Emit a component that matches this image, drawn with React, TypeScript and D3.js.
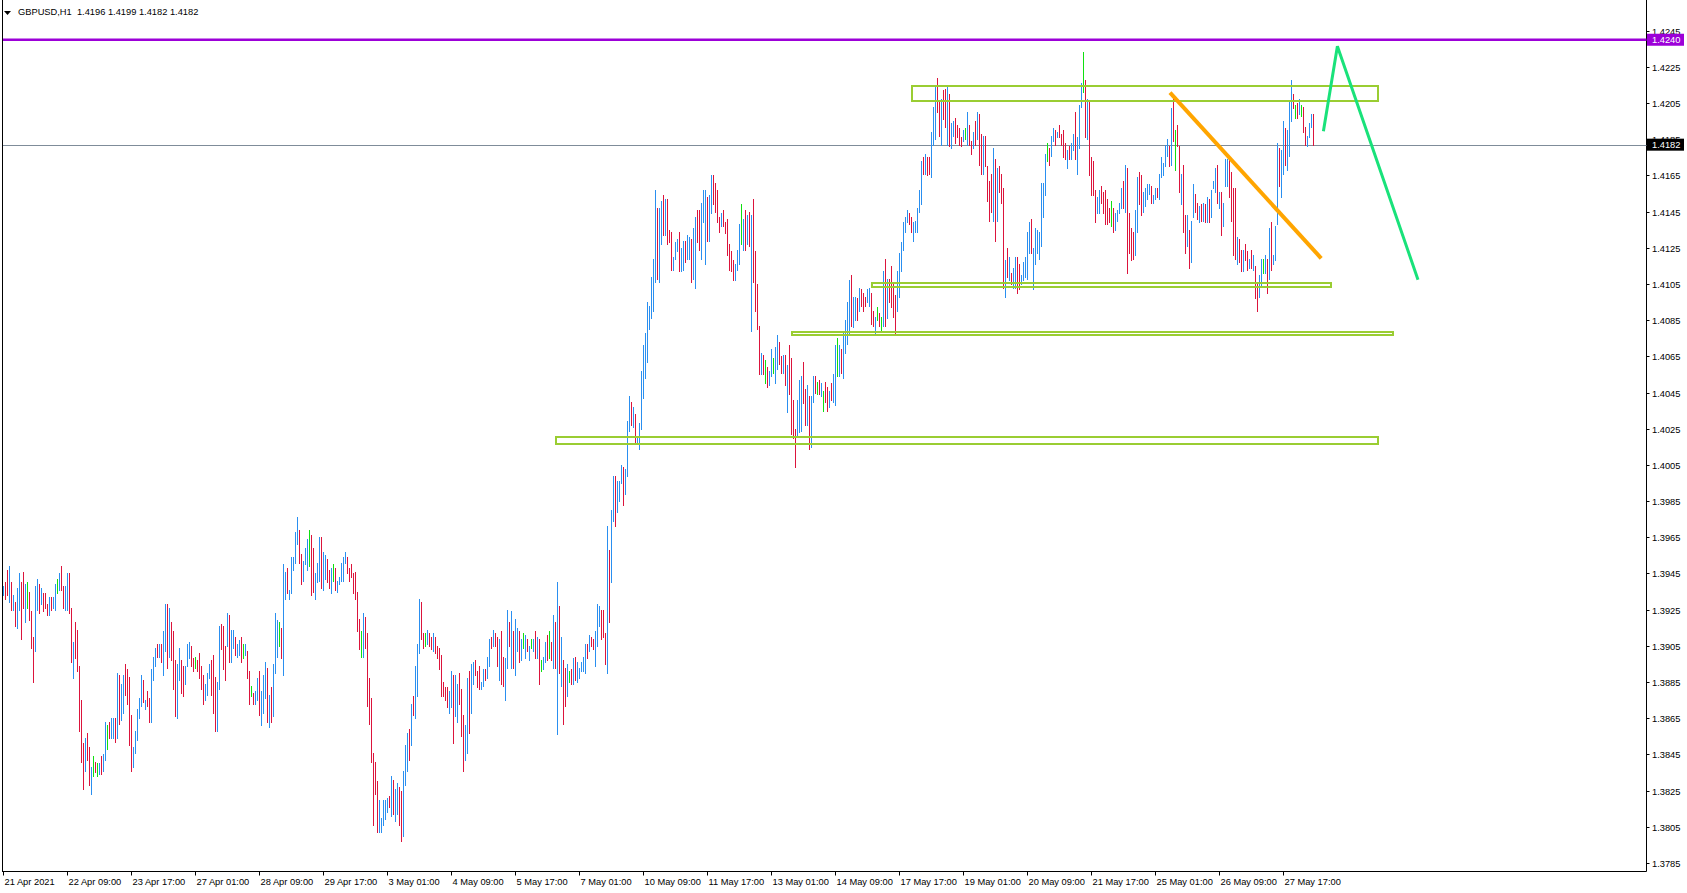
import React from 'react';
import * as d3 from 'd3';

// ---------- DATA (GBPUSD H1, prices × 10000) ----------
const TITLE_SYMBOL = 'GBPUSD,H1';
const LAST_OHLC = ['1.4196', '1.4199', '1.4182', '1.4182'];

const HIGH = [
  13938,13940,13947,13949,13940,13933,13929,13937,13945,13940,
  13946,13939,13940,13935,13924,13910,13938,13942,13939,13937,
  13934,13934,13928,13932,13932,13932,13939,13942,13945,13949,
  13938,13938,13945,13945,13926,13907,13918,13914,13894,13875,
  13851,13854,13857,13849,13838,13844,13841,13840,13840,13844,
  13845,13863,13861,13863,13865,13865,13865,13890,13889,13884,
  13889,13895,13892,13888,13867,13849,13858,13870,13876,13889,
  13886,13875,13880,13876,13892,13899,13904,13906,13906,13906,
  13913,13928,13928,13926,13918,13913,13897,13895,13904,13897,
  13894,13894,13906,13907,13905,13898,13899,13897,13901,13894,
  13889,13884,13890,13895,13897,13900,13888,13885,13916,13917,
  13916,13905,13923,13922,13914,13914,13910,13906,13908,13910,
  13906,13906,13902,13891,13883,13879,13880,13887,13891,13880,
  13889,13896,13893,13878,13882,13895,13923,13919,13918,13915,
  13950,13946,13948,13936,13954,13954,13968,13976,13969,13956,
  13952,13959,13964,13969,13966,13959,13945,13951,13965,13965,
  13957,13955,13953,13947,13948,13950,13948,13941,13943,13951,
  13954,13957,13954,13948,13950,13945,13946,13935,13920,13913,
  13923,13921,13912,13887,13876,13846,13841,13830,13820,13810,
  13820,13820,13821,13822,13833,13831,13826,13829,13827,13825,
  13836,13850,13857,13859,13873,13877,13894,13906,13931,13929,
  13912,13912,13914,13912,13910,13912,13910,13905,13904,13900,
  13885,13882,13882,13880,13891,13889,13889,13884,13890,13881,
  13867,13861,13887,13891,13895,13896,13897,13891,13894,13885,
  13892,13892,13899,13909,13910,13914,13912,13910,13909,13913,
  13899,13898,13925,13918,13924,13913,13920,13915,13913,13909,
  13912,13911,13909,13905,13909,13909,13913,13910,13909,13897,
  13899,13907,13911,13913,13907,13922,13918,13940,13927,13910,
  13897,13893,13895,13891,13892,13898,13899,13896,13893,13896,
  13899,13906,13906,13911,13910,13909,13913,13928,13927,13925,
  13925,13912,13971,13958,13980,13999,13999,13996,13996,14005,
  14004,14003,14029,14043,14040,14037,14033,14021,14028,14057,
  14071,14078,14095,14093,14109,14119,14157,14147,14147,14151,
  14154,14152,14152,14135,14134,14120,14128,14130,14134,14125,
  14129,14129,14132,14131,14130,14136,14142,14146,14146,14150,
  14157,14157,14153,14154,14165,14165,14161,14157,14142,14144,
  14146,14139,14141,14127,14123,14118,14116,14124,14138,14149,
  14141,14146,14143,14145,14143,14152,14123,14105,14082,14067,
  14066,14063,14059,14057,14069,14064,14070,14077,14073,14065,
  14066,14066,14060,14071,14064,14041,14025,14041,14052,14054,
  14062,14047,14049,14043,14043,14054,14054,14051,14052,14050,
  14046,14051,14048,14046,14050,14055,14071,14075,14071,14069,
  14078,14085,14095,14107,14110,14098,14098,14097,14103,14102,
  14100,14098,14102,14103,14100,14090,14087,14092,14089,14087,
  14112,14119,14108,14108,14115,14106,14099,14112,14122,14128,
  14139,14142,14146,14144,14142,14139,14140,14147,14157,14173,
  14175,14177,14175,14175,14189,14203,14214,14219,14206,14207,
  14212,14213,14214,14210,14194,14195,14197,14193,14191,14186,
  14190,14191,14200,14193,14184,14189,14195,14200,14199,14188,
  14187,14187,14170,14162,14166,14180,14174,14169,14170,14166,
  14158,14118,14125,14120,14111,14114,14120,14120,14116,14110,
  14117,14120,14134,14139,14141,14125,14136,14135,14134,14161,
  14161,14177,14183,14180,14187,14191,14190,14189,14193,14188,
  14190,14183,14179,14181,14183,14188,14200,14186,14204,14216,
  14233,14218,14207,14206,14175,14173,14157,14153,14157,14159,
  14156,14157,14152,14147,14151,14147,14144,14146,14150,14158,
  14162,14171,14169,14144,14136,14134,14146,14164,14167,14165,
  14156,14158,14160,14160,14159,14154,14158,14158,14166,14175,
  14172,14182,14185,14181,14202,14210,14190,14193,14181,14166,
  14171,14143,14143,14135,14140,14160,14155,14150,14148,14149,
  14150,14149,14153,14152,14157,14162,14169,14171,14156,14156,
  14150,14174,14174,14175,14167,14158,14158,14131,14130,14124,
  14124,14127,14123,14119,14124,14121,14115,14106,14110,14119,
  14119,14121,14119,14136,14139,14121,14137,14183,14180,14179,
  14195,14191,14190,14206,14218,14210,14204,14205,14207,14204,
  14203,14192,14187,14194,14199,14199,
];

const LOW = [
  13933,13931,13933,13929,13925,13925,13916,13915,13925,13909,
  13926,13918,13926,13919,13904,13885,13902,13925,13923,13928,
  13924,13926,13922,13922,13925,13926,13925,13934,13936,13936,
  13926,13925,13925,13923,13896,13887,13898,13891,13858,13841,
  13826,13836,13842,13828,13823,13833,13835,13833,13834,13834,
  13836,13842,13848,13854,13854,13854,13852,13854,13862,13864,
  13868,13878,13873,13850,13836,13838,13846,13853,13865,13872,
  13874,13870,13872,13863,13863,13886,13894,13899,13899,13896,
  13889,13902,13893,13899,13897,13881,13866,13865,13886,13879,
  13877,13884,13894,13898,13894,13891,13893,13891,13887,13881,
  13873,13875,13878,13887,13878,13868,13858,13858,13881,13903,
  13892,13886,13905,13896,13896,13904,13900,13899,13900,13896,
  13898,13900,13887,13873,13877,13873,13873,13875,13867,13861,
  13868,13876,13863,13860,13863,13866,13890,13899,13905,13898,
  13889,13931,13934,13931,13934,13947,13951,13961,13951,13939,
  13941,13950,13947,13949,13933,13935,13931,13940,13941,13937,
  13936,13942,13940,13937,13934,13941,13936,13935,13939,13941,
  13941,13951,13945,13941,13943,13934,13931,13913,13903,13899,
  13899,13904,13872,13862,13841,13806,13823,13802,13802,13802,
  13806,13809,13813,13816,13811,13812,13808,13812,13806,13797,
  13800,13828,13836,13842,13850,13867,13865,13877,13901,13909,
  13904,13905,13906,13905,13903,13902,13901,13898,13892,13877,
  13877,13875,13871,13868,13871,13851,13866,13863,13873,13855,
  13836,13842,13846,13857,13868,13884,13889,13882,13881,13881,
  13883,13886,13887,13894,13904,13905,13905,13894,13886,13884,
  13883,13875,13893,13905,13893,13893,13889,13902,13896,13897,
  13904,13898,13902,13897,13904,13902,13898,13898,13884,13891,
  13892,13896,13897,13898,13897,13893,13893,13856,13890,13883,
  13862,13872,13877,13885,13884,13884,13886,13885,13887,13891,
  13891,13890,13898,13902,13905,13903,13894,13905,13916,13909,
  13910,13895,13890,13918,13940,13974,13971,13979,13985,13995,
  13983,13989,13999,14024,14027,14026,14017,14017,14014,14025,
  14042,14053,14062,14080,14086,14090,14106,14108,14106,14127,
  14132,14132,14127,14128,14113,14113,14119,14123,14112,14112,
  14113,14117,14119,14119,14106,14108,14103,14128,14124,14119,
  14139,14116,14129,14129,14144,14149,14145,14139,14134,14137,
  14137,14133,14121,14113,14112,14107,14107,14113,14116,14127,
  14124,14124,14127,14126,14079,14106,14090,14080,14055,14055,
  14055,14050,14048,14049,14054,14056,14050,14058,14061,14056,
  14056,14049,14034,14044,14022,14020,14004,14021,14023,14024,
  14039,14027,14027,14014,14015,14040,14045,14044,14044,14043,
  14035,14040,14035,14037,14041,14040,14038,14054,14054,14056,
  14053,14067,14072,14077,14082,14081,14085,14085,14090,14093,
  14090,14093,14095,14093,14083,14082,14077,14085,14082,14079,
  14082,14082,14086,14095,14092,14087,14077,14090,14098,14112,
  14124,14134,14139,14138,14134,14129,14134,14134,14145,14149,
  14166,14166,14165,14166,14164,14182,14185,14200,14187,14182,
  14196,14192,14182,14181,14180,14187,14183,14186,14182,14181,
  14184,14185,14182,14182,14177,14180,14182,14185,14171,14166,
  14166,14170,14151,14140,14145,14140,14129,14140,14156,14150,
  14103,14098,14109,14107,14105,14103,14103,14100,14102,14105,
  14107,14109,14108,14122,14122,14102,14116,14122,14119,14126,
  14142,14154,14173,14171,14176,14184,14182,14186,14186,14182,
  14175,14174,14169,14174,14174,14179,14174,14166,14180,14203,
  14211,14186,14185,14165,14154,14154,14139,14144,14144,14150,
  14144,14138,14138,14139,14137,14134,14135,14140,14144,14147,
  14147,14145,14111,14122,14118,14119,14121,14134,14149,14143,
  14145,14148,14152,14155,14150,14150,14152,14153,14152,14164,
  14165,14170,14176,14170,14171,14184,14168,14181,14156,14149,
  14134,14122,14126,14114,14117,14142,14145,14141,14139,14140,
  14140,14139,14139,14139,14142,14158,14156,14150,14147,14132,
  14137,14159,14159,14153,14140,14121,14119,14116,14117,14112,
  14112,14118,14113,14114,14114,14113,14097,14090,14098,14104,
  14111,14111,14100,14108,14113,14116,14118,14138,14159,14153,
  14166,14171,14168,14176,14195,14202,14197,14197,14199,14198,
  14189,14182,14181,14186,14192,14182,
];

// one character per bar: u = close above open, d = close below open, n = unchanged
const DIRECTION = [
  'uddududuud', 'dunddduudu', 'ddduduunud', 'duuddudddd', 'duddundnud',
  'uunduududu', 'udddduuuuu', 'dudduuudud', 'uududdduud', 'duuuddnddd',
  'duuuddduud', 'dduduuduud', 'nuddnduudu', 'uududuuund', 'uuduuuuudd',
  'uuundduuud', 'uuddunduuu', 'uudddddddn', 'uddddddduu', 'uuududuudd',
  'uuududuuud', 'dnuddudddd', 'ddduuduudd', 'duuduudddu', 'uduududdud',
  'duududuudu', 'nudunududn', 'uudndududu', 'ddunduduuu', 'uududduuud',
  'dduduuduuu', 'duuududuuu', 'uuuuuuuduu', 'duddduuudu', 'uduuduuddu',
  'uuduuddddu', 'dddddduuun', 'udududdddu', 'dnduunuudd', 'ududddduuu',
  'dduduudndu', 'ndduduunud', 'uuuuduudud', 'dduuddundn', 'ududddduuu',
  'uuudduuuuu', 'dudduuuddu', 'dduduudddd', 'unuddududd', 'uddddududd',
  'dududuuddu', 'uuuuduuuuu', 'uunduududd', 'dduduuduuu', 'ndudddduud',
  'ddddnduuuu', 'dudddduudd', 'uuuuduuduu', 'uuududnddu', 'dduduuddud',
  'ududuuudud', 'uuuddddudd', 'uddududduu', 'nududuuudu', 'uduuudndun',
  'dduuud',
].join('');

const TIME_LABELS = [
  '21 Apr 2021', '22 Apr 09:00', '23 Apr 17:00', '27 Apr 01:00', '28 Apr 09:00',
  '29 Apr 17:00', '3 May 01:00', '4 May 09:00', '5 May 17:00', '7 May 01:00',
  '10 May 09:00', '11 May 17:00', '13 May 01:00', '14 May 09:00', '17 May 17:00',
  '19 May 01:00', '20 May 09:00', '21 May 17:00', '25 May 01:00', '26 May 09:00',
  '27 May 17:00',
];
const BARS_PER_TIME_LABEL = 32;

const PRICE_TICKS = [
  1.4245, 1.4225, 1.4205, 1.4185, 1.4165, 1.4145, 1.4125, 1.4105, 1.4085, 1.4065,
  1.4045, 1.4025, 1.4005, 1.3985, 1.3965, 1.3945, 1.3925, 1.3905, 1.3885, 1.3865,
  1.3845, 1.3825, 1.3805, 1.3785,
];

const RESISTANCE_LEVEL = 1.424;
const BID_PRICE = 1.4182;

// zones: [from bar, to bar, price A, price B]
const ZONES: [number, number, number, number][] = [
  [454.5, 687.5, 1.42146, 1.42063],
  [434.5, 664.0, 1.41057, 1.41033],
  [394.5, 695.0, 1.40783, 1.40766],
  [276.5, 687.5, 1.40204, 1.40165],
];
// trendline: [bar, price]
const TRENDLINE: [number, number][] = [[583.5, 1.42108], [659.1, 1.41192]];
const PROJECTION: [number, number][] = [[660.2, 1.41894], [667.2, 1.42364], [707.5, 1.41074]];

// ---------- COMPONENT ----------
const W = 1687;
const H = 893;
const AXIS_X = 1646.5;
const AXIS_Y = 871.5;
const FONT = "'Liberation Sans', Arial, sans-serif";

export default function App() {
  const n = HIGH.length;
  const x = d3.scaleLinear().domain([0, n - 1]).range([3, 3 + 2 * (n - 1)]);
  const y = d3.scaleLinear().domain([1.3785, 1.4245]).range([862.9, 30.7]);

  const colorOf = (c: string) =>
    c === 'u' ? '#2a8ff0' : c === 'd' ? '#dc143c' : '#10e010';

  const bars = HIGH.map((h, i) => {
    const yt = Math.round(y(h / 10000));
    const yb = Math.round(y(LOW[i] / 10000));
    return (
      <rect
        key={i}
        x={Math.round(x(i))}
        y={yt}
        width={1}
        height={Math.max(1, yb - yt + 1)}
        fill={colorOf(DIRECTION[i] || 'u')}
      />
    );
  });

  const line = d3
    .line<[number, number]>()
    .x((d) => x(d[0]))
    .y((d) => y(d[1]));

  return (
    <svg
      width={W}
      height={H}
      style={{ position: 'absolute', left: 0, top: 0, display: 'block', background: '#fff' }}
      fontFamily={FONT}
    >
      <rect x={0} y={0} width={W} height={H} fill="#fff" />
      {/* frame */}
      <line x1={2.5} y1={0} x2={2.5} y2={AXIS_Y} stroke="#000" strokeWidth={1} />
      <line x1={2} y1={AXIS_Y} x2={AXIS_X} y2={AXIS_Y} stroke="#000" strokeWidth={1} />
      <line x1={AXIS_X} y1={0} x2={AXIS_X} y2={AXIS_Y} stroke="#000" strokeWidth={1} />

      {/* bid line */}
      <line x1={3} x2={AXIS_X} y1={Math.round(y(BID_PRICE)) + 0.5} y2={Math.round(y(BID_PRICE)) + 0.5} stroke="#7f8c99" strokeWidth={1} />

      {/* bars */}
      <g shapeRendering="crispEdges">{bars}</g>

      {/* resistance line */}
      <line x1={3} x2={AXIS_X} y1={y(RESISTANCE_LEVEL)} y2={y(RESISTANCE_LEVEL)} stroke="#9c00d8" strokeWidth={2.5} />

      {/* zones */}
      <g fill="none" stroke="#9acd32" strokeWidth={2} shapeRendering="crispEdges">
        {ZONES.map((z, i) => {
          const x0 = x(z[0]);
          const x1 = x(z[1]);
          const y0 = y(Math.max(z[2], z[3]));
          const y1 = y(Math.min(z[2], z[3]));
          return <rect key={i} x={x0} y={y0} width={x1 - x0} height={Math.max(1, y1 - y0)} />;
        })}
      </g>

      {/* trendline */}
      <path d={line(TRENDLINE) || ''} stroke="#ffa500" strokeWidth={4} fill="none" />
      {/* projection */}
      <path d={line(PROJECTION) || ''} stroke="#19e27a" strokeWidth={3} fill="none" />

      {/* price axis */}
      <g fontSize={9.3} fill="#000">
        {PRICE_TICKS.map((p) => {
          const yy = Math.round(y(p)) + 0.5;
          return (
            <g key={p}>
              <line x1={AXIS_X} x2={AXIS_X + 3} y1={yy} y2={yy} stroke="#000" />
              <text x={1652} y={yy} dy="0.35em">{p.toFixed(4)}</text>
            </g>
          );
        })}
      </g>
      {/* price labels */}
      <g fontSize={9.3}>
        <rect x={AXIS_X + 0.5} y={y(RESISTANCE_LEVEL) - 6} width={37} height={12} fill="#9c00d8" />
        <text x={1652} y={y(RESISTANCE_LEVEL)} dy="0.35em" fill="#fff">{RESISTANCE_LEVEL.toFixed(4)}</text>
        <rect x={AXIS_X + 0.5} y={y(BID_PRICE) - 6} width={37} height={12} fill="#000" />
        <text x={1652} y={y(BID_PRICE)} dy="0.35em" fill="#fff">{BID_PRICE.toFixed(4)}</text>
      </g>

      {/* time axis */}
      <g fontSize={9.3} fill="#000">
        {TIME_LABELS.map((t, k) => {
          const xx = Math.round(x(k * BARS_PER_TIME_LABEL)) + 0.5;
          return (
            <g key={t}>
              <line x1={xx} x2={xx} y1={AXIS_Y} y2={AXIS_Y + 4} stroke="#000" />
              <text x={xx + 1} y={884.5}>{t}</text>
            </g>
          );
        })}
      </g>

      {/* title */}
      <path d="M4,11 L11,11 L7.5,15 Z" fill="#000" />
      <text x={18} y={15} fontSize={9.3} fill="#000" style={{ whiteSpace: 'pre' }}>
        {`${TITLE_SYMBOL}  ${LAST_OHLC.join(' ')}`}
      </text>
    </svg>
  );
}
